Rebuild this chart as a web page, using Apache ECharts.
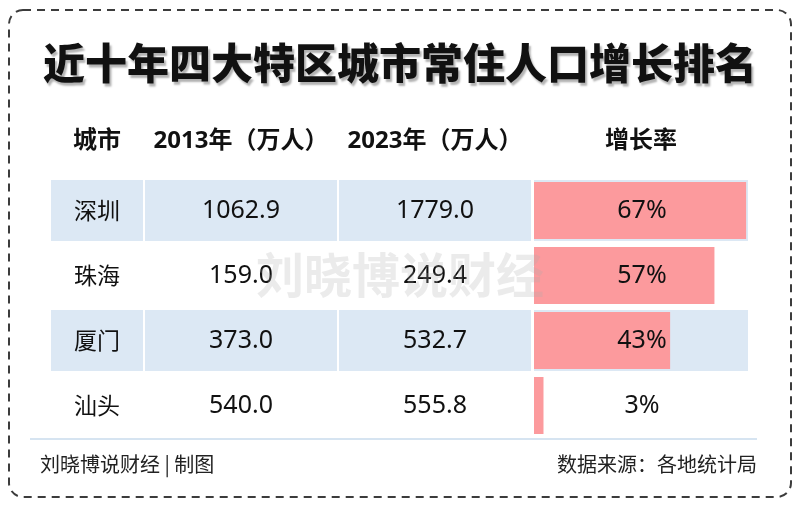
<!DOCTYPE html>
<html>
<head>
<meta charset="utf-8">
<script src="https://cdn.jsdelivr.net/npm/echarts@6/dist/echarts.min.js"></script>
<style>html,body{margin:0;padding:0;background:#fff}#c{width:800px;height:507px}</style>
</head>
<body>
<div id="c"></div>
<script>
const cities = ['深圳', '珠海', '厦门', '汕头'];
const pop2013 = [1062.9, 159.0, 373.0, 540.0];
const pop2023 = [1779.0, 249.4, 532.7, 555.8];
const growth = [67, 57, 43, 3];
const headers = ['城市', '2013年（万人）', '2023年（万人）', '增长率'];
const titleText = '近十年四大特区城市常住人口增长排名';
const creditText = '刘晓博说财经 | 制图';
const sourceText = '数据来源：各地统计局';
const watermark = '刘晓博说财经';

const CJK = '"Noto Sans CJK SC", sans-serif';
const NUM = '"Noto Sans", "Noto Sans CJK SC", sans-serif';
const BLUE = '#dce8f4';
const PINK = '#fc9a9d';
const TOP = 178, HEIGHT = 260;
const cols = [
  { left: 51, width: 92 },
  { left: 145, width: 192 },
  { left: 339, width: 192 },
  { left: 534, width: 214 }
];
const cellText = [
  i => cities[i],
  i => pop2013[i].toFixed(1),
  i => pop2023[i].toFixed(1),
  i => growth[i] + '%'
];

const grids = [], xAxes = [], yAxes = [], series = [];
cols.forEach((c, k) => {
  grids.push({ left: c.left, width: c.width, top: TOP, height: HEIGHT });
  xAxes.push({
    type: 'value', gridIndex: k, min: 0, max: 1, position: 'top',
    axisLine: { show: false }, axisTick: { show: false }, axisLabel: { show: false }, splitLine: { show: false },
    name: headers[k], nameLocation: 'middle', nameGap: 37,
    nameTextStyle: { fontFamily: NUM, fontSize: 24, fontWeight: 'bold', color: '#111', verticalAlign: 'middle' }
  });
  yAxes.push({ type: 'category', gridIndex: k, data: cities, inverse: true, show: false });
  series.push({
    type: 'bar', xAxisIndex: k, yAxisIndex: k, barWidth: 61, silent: true,
    data: cities.map(() => 1),
    itemStyle: { color: p => (p.dataIndex % 2 === 0 ? BLUE : '#ffffff') },
    label: {
      show: k < 3, position: 'inside',
      formatter: p => cellText[k](p.dataIndex),
      fontFamily: k === 0 ? CJK : NUM, fontSize: k === 0 ? 23 : 25, color: '#111'
    }
  });
});
// growth bars
grids.push({ left: 534, width: 214, top: TOP, height: HEIGHT });
xAxes.push({ type: 'value', gridIndex: 4, min: 0, max: 67.6, show: false });
yAxes.push({ type: 'category', gridIndex: 4, data: cities, inverse: true, show: false });
series.push({
  type: 'bar', xAxisIndex: 4, yAxisIndex: 4, barWidth: 57, z: 3,
  data: growth,
  itemStyle: { color: PINK },
  label: {
    show: true, position: [108, '50%'], align: 'center', verticalAlign: 'middle',
    formatter: '{c}%', fontFamily: NUM, fontSize: 25, color: '#111'
  }
});

const chart = echarts.init(document.getElementById('c'), null, { renderer: 'canvas' });
chart.setOption({
  animation: false,
  backgroundColor: '#fff',
  title: [
    {
      text: titleText, left: 'center', top: 37,
      textStyle: {
        fontFamily: CJK, fontSize: 42, fontWeight: 900, color: '#111',
        textShadowColor: 'rgba(0,0,0,0.3)', textShadowBlur: 2, textShadowOffsetX: 2, textShadowOffsetY: 3
      }
    },
    { text: creditText, left: 40, top: 454, padding: 0, textStyle: { fontFamily: CJK, fontSize: 20, fontWeight: 'normal', color: '#222' } },
    { text: sourceText, right: 43, top: 454, padding: 0, textStyle: { fontFamily: CJK, fontSize: 20, fontWeight: 'normal', color: '#222' } }
  ],
  grid: grids, xAxis: xAxes, yAxis: yAxes, series: series,
  graphic: [
    { type: 'rect', shape: { x: 9, y: 10, width: 782, height: 487, r: 14 },
      style: { fill: 'none', stroke: '#3c3c3c', lineWidth: 2, lineDash: [8, 6] }, silent: true, z: 10 },
    { type: 'line', shape: { x1: 30, y1: 439, x2: 757, y2: 439 },
      style: { stroke: '#d6e4f1', lineWidth: 2 }, silent: true, z: 10 },
    { type: 'text', x: 400, y: 275, silent: true, z: 20,
      style: { text: watermark, font: 'bold 48px "Noto Sans CJK SC"', fill: 'rgba(170,170,170,0.24)', align: 'center', verticalAlign: 'middle' } }
  ]
});
</script>
</body>
</html>
